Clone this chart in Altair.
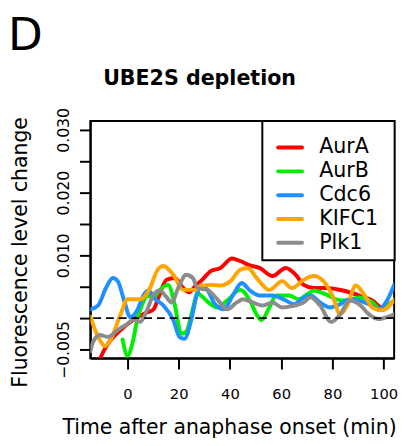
import altair as alt
import pandas as pd

panel_letter = "D"
chart_title = "UBE2S depletion"
x_title = "Time after anaphase onset (min)"
y_title = "Fluorescence level change"

series_names = ["AurA", "AurB", "Cdc6", "KIFC1", "Plk1"]
series_colors = ["#FF0000", "#00EE00", "#1E90FF", "#FFA500", "#8C8C8C"]

# values in units of 0.001
aura_t = [-11.5, -10.3, -7.6, -2.7, 2.6, 7.6, 10.2, 12.1, 15.3, 18.4, 21.7, 24.1, 26.8, 28.7, 32.5, 36.3,
          40.8, 44.0, 47.8, 51.6, 56.6, 61.8, 65.7, 68.8, 72.7, 77.6, 84.1, 90.5, 95.6, 99.4, 103.2, 104.1]
aura_v = [-7.5, -6.1, -4.1, -1.9, -0.2, 0.9, 1.4, 3.3, 6.1, 6.4, 4.8, 4.1, 5.3, 5.9, 7.5, 8.0,
          9.5, 9.1, 8.4, 8.0, 6.7, 8.0, 6.9, 5.3, 4.8, 4.8, 4.4, 3.6, 2.8, 1.7, 2.5, 2.6]

aurb_t = [-1.9, 0.0, 1.9, 3.8, 6.4, 7.6, 10.2, 12.6, 15.9, 18.4, 21.0, 22.9, 25.5, 27.4, 28.7, 32.5, 35.1,
          38.9, 44.0, 47.8, 50.4, 52.3, 55.4, 58.0, 63.1, 66.9, 70.0, 72.7, 77.6, 81.5, 85.3, 90.5,
          95.6, 98.7, 103.2, 104.1]
aurb_v = [-3.4, -6.0, -4.1, -0.3, 2.8, 3.6, 3.3, 4.5, 5.3, 2.2, -2.5, -2.2, 1.5, 4.0, 3.6, 2.2, 1.7,
          2.8, 4.5, 2.8, 0.6, -0.3, 1.7, 3.6, 3.6, 3.0, 3.75, 4.4, 3.75, 3.0, 2.8, 3.3,
          2.5, 1.4, 2.5, 2.6]

cdc6_t = [-14.5, -11.5, -8.4, -5.7, -3.8, -1.3, 1.1, 3.8, 6.4, 8.3, 10.2, 14.0, 17.9, 20.3, 22.2, 24.9,
          26.8, 28.7, 31.2, 33.7, 37.5, 41.3, 44.6, 47.8, 51.6, 56.6, 61.8, 65.0, 68.8, 71.4, 75.2,
          79.0, 82.9, 86.7, 90.5, 94.3, 98.2, 101.3, 104.1]
cdc6_v = [1.4, 2.0, 4.8, 6.4, 5.9, 2.8, 0.16, 1.25, 3.75, 4.4, 3.3, 2.0, -0.3, -3.0, -3.3, -0.3,
          3.3, 5.2, 4.5, 2.5, 1.4, 3.75, 5.6, 4.4, 3.6, 3.6, 2.8, 2.2, 3.3, 3.6, 2.5,
          1.7, 2.2, 3.0, 2.8, 2.2, 1.4, 2.8, 5.3]

kifc1_t = [-14.5, -12.5, -10.0, -8.9, -6.5, -2.7, 0.0, 5.0, 8.8, 11.5, 14.0, 17.9, 21.7, 26.8, 28.7, 32.5,
           36.3, 40.2, 44.0, 47.0, 50.4, 55.4, 60.4, 64.2, 68.8, 72.7, 76.5, 80.3, 82.9, 86.0, 89.1,
           92.4, 95.6, 99.4, 104.1]
kifc1_v = [0.2, -2.0, -4.0, -4.5, -3.4, 0.6, 3.0, 3.0, 4.8, 7.5, 8.3, 6.9, 4.5, 4.5, 5.2, 5.3,
           5.2, 5.9, 7.7, 8.0, 6.4, 4.5, 5.9, 4.8, 6.1, 6.7, 5.9, 3.3, 0.6, 2.2, 5.2,
           3.75, 1.7, 1.25, 2.9]

plk1_t = [-14.5, -13.4, -10.8, -7.6, -3.8, 0.0, 2.6, 5.0, 7.6, 10.2, 12.6, 15.3, 17.2, 19.8, 22.9, 25.5,
          27.4, 31.2, 35.1, 38.9, 42.7, 45.1, 48.9, 52.8, 56.6, 60.4, 64.2, 68.8, 71.4, 75.2, 79.5,
          82.9, 86.7, 90.5, 94.3, 98.2, 101.3, 104.1]
plk1_v = [-5.3, -3.8, -2.7, -3.0, -1.9, -0.9, -0.16, -0.6, 1.25, 3.75, 4.4, 3.3, 2.5, 4.8, 6.9, 6.4,
          4.8, 4.5, 3.0, 1.4, 2.5, 3.0, 2.5, 2.0, 2.5, 1.7, 1.9, 2.5, 3.3, 2.0, -0.6,
          0.5, 2.8, 2.2, 0.6, -0.16, 0.16, 0.6]

x_ticks = [0, 20, 40, 60, 80, 100]
y_ticks = [-0.005, 0.0, 0.005, 0.010, 0.015, 0.020, 0.025, 0.030]
y_labels = [-0.005, 0.010, 0.020, 0.030]
x_domain = [-14.5, 104.1]
y_domain = [-0.0064, 0.0314]

all_t = [aura_t, aurb_t, cdc6_t, kifc1_t, plk1_t]
all_v = [aura_v, aurb_v, cdc6_v, kifc1_v, plk1_v]
rows = []
for name, ts, vs in zip(series_names, all_t, all_v):
    for t, v in zip(ts, vs):
        rows.append({"series": name, "t": t, "v": v * 0.001})
df = pd.DataFrame(rows)

FONT = "DejaVu Sans"
color_scale = alt.Scale(domain=series_names, range=series_colors)
y_scale = alt.Scale(domain=y_domain, nice=False, zero=False)

conds = " || ".join(f"abs(datum.value - ({v})) < 1e-7" for v in y_labels)
y_label_expr = f"({conds}) ? format(datum.value, '.3f') : ''"

y_axis = alt.Axis(values=y_ticks, labelExpr=y_label_expr, labelAngle=-90, labelFontSize=16,
                  labelAlign="center", labelBaseline="alphabetic", labelPadding=11,
                  labelOverlap=False, labelBound=False, title=y_title, titleAngle=270,
                  titleX=-65.3, titleY=133.5, titleAlign="center",
                  titleBaseline="alphabetic")

lines = alt.Chart(df).mark_line(
    strokeWidth=4, interpolate="monotone", clip=True, strokeCap="round", strokeJoin="round"
).encode(
    x=alt.X("t:Q", scale=alt.Scale(domain=x_domain, nice=False, zero=False),
            axis=alt.Axis(values=x_ticks, format="d", title=x_title, titleX=141.5, titleY=77,
                          titleAlign="center", titleBaseline="alphabetic",
                          labelBaseline="alphabetic", labelPadding=30)),
    y=alt.Y("v:Q", scale=y_scale, axis=y_axis),
    color=alt.Color("series:N", scale=color_scale, legend=None),
)

zero_df = pd.DataFrame({"v": [0.0]})
zero_line = alt.Chart(zero_df).mark_rule(strokeDash=[8, 5], strokeWidth=2, color="black").encode(
    y=alt.Y("v:Q", scale=y_scale, axis=y_axis)
)

main = alt.layer(lines, zero_line)

one = pd.DataFrame({"a": [0]})
legend_box = alt.Chart(one).mark_rect(fill="white", stroke="black", strokeWidth=2).encode(
    x=alt.value(175.5), x2=alt.value(310.5), y=alt.value(0), y2=alt.value(142)
)

legend_df = pd.DataFrame({"series": series_names})
leg_y = alt.Y("series:N", scale=alt.Scale(type="point", domain=series_names, range=[27, 124.2], padding=0),
              axis=None)
legend_sym = alt.Chart(legend_df).mark_rule(strokeWidth=4, strokeCap="round").encode(
    x=alt.value(191.7), x2=alt.value(216), y=leg_y,
    color=alt.Color("series:N", scale=color_scale, legend=None),
)
legend_txt = alt.Chart(legend_df).mark_text(
    font=FONT, fontSize=21, align="left", baseline="middle", color="black"
).encode(x=alt.value(233.5), y=leg_y, text="series:N")

title_txt = alt.Chart(one).mark_text(
    text=chart_title, font=FONT, fontSize=21, fontWeight="bold", align="center",
    baseline="alphabetic", color="black"
).encode(x=alt.value(111.5), y=alt.value(-37.3))

letter_txt = alt.Chart(one).mark_text(
    text=panel_letter, font=FONT, fontSize=46, align="left", baseline="alphabetic", color="black"
).encode(x=alt.value(-84), y=alt.value(-73))

chart = alt.layer(main, legend_box, legend_sym, legend_txt, title_txt, letter_txt).resolve_scale(
    y="independent"
).properties(
    width=310, height=242,
    autosize=alt.AutoSizeParams(type="none"),
    padding={"left": 84, "top": 111, "right": 7, "bottom": 80},
).configure_view(
    stroke="black", strokeWidth=2
).configure_axis(
    domainColor="black", domainWidth=2, tickColor="black", tickWidth=2, tickSize=11,
    labelFont=FONT, labelFontSize=15, labelColor="black",
    titleFont=FONT, titleFontSize=20.8, titleFontWeight="normal", titleColor="black",
    grid=False, labelOverlap=False,
)

chart.save("out.html", embed_options={"renderer": "svg", "actions": False})
